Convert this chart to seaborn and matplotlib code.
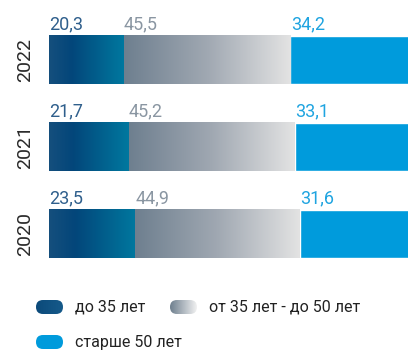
import numpy as np
import pandas as pd
import matplotlib
matplotlib.use("Agg")
import matplotlib.pyplot as plt
import seaborn as sns
from matplotlib import font_manager
from matplotlib.colors import LinearSegmentedColormap
from matplotlib.patches import FancyBboxPatch

# ---- data ----
years = ["2022", "2021", "2020"]
young = [20.3, 21.7, 23.5]
middle = [45.5, 45.2, 44.9]
senior = [34.2, 33.1, 31.6]
legend_labels = ["до 35 лет", "от 35 лет - до 50 лет", "старше 50 лет"]

sns.set_theme(style="white")
names = {f.name for f in font_manager.fontManager.ttflist}
font = "Liberation Sans Narrow" if "Liberation Sans Narrow" in names else "Roboto"
plt.rcParams["font.family"] = [font, "DejaVu Sans"]

df = pd.DataFrame({"year": years, "young": young, "middle": middle, "senior": senior})
df["cum_mid"] = df["young"] + df["middle"]
df["total"] = df["cum_mid"] + df["senior"]

W, H = 408, 352
fig = plt.figure(figsize=(W / 100, H / 100), dpi=100)
step = 87
top_c = 60
ax = fig.add_axes([49 / W, 1 - (top_c + 2.5 * step) / H, 367 / W, 3 * step / H])

bw = 0.555
c_blue = "#009bdc"
sns.barplot(data=df, y="year", x="total", order=years, orient="h", color=c_blue,
            width=bw, ax=ax, saturation=1)
n0 = len(ax.patches)
sns.barplot(data=df, y="year", x="cum_mid", order=years, orient="h", color="#aaaaaa",
            width=bw, ax=ax, saturation=1)
n1 = len(ax.patches)
sns.barplot(data=df, y="year", x="young", order=years, orient="h", color="#0b4a7a",
            width=bw, ax=ax, saturation=1)
p_total = ax.patches[:n0]
p_mid = ax.patches[n0:n1]
p_young = ax.patches[n1:]

cm_dark = LinearSegmentedColormap.from_list("d", [(0, "#154f7d"), (0.3, "#03467a"), (1, "#00789f")])
cm_gray = LinearSegmentedColormap.from_list("g", [(0, "#6e7f8f"), (0.5, "#a0a8b2"), (1, "#e3e3e3")])
grad = np.linspace(0, 1, 256).reshape(1, -1)

for pt, pm, py in zip(p_total, p_mid, p_young):
    y0, h = py.get_y(), py.get_height()
    xa = py.get_width()
    xb = pm.get_width()
    ax.imshow(grad, extent=(0, xa, y0 + h, y0), aspect="auto", cmap=cm_dark, zorder=3,
              interpolation="bilinear")
    ax.imshow(grad, extent=(xa, xb, y0 + h, y0), aspect="auto", cmap=cm_gray, zorder=3,
              interpolation="bilinear")

ax.set_xlim(0, 100)
ax.set_ylim(2.5, -0.5)

lab_colors = ["#2f5f8c", "#8a96a2", "#1fa4e0"]
for i, (py, pm) in enumerate(zip(p_young, p_mid)):
    ytop = py.get_y()
    starts = [0, py.get_width(), pm.get_width()]
    vals = [young[i], middle[i], senior[i]]
    for s, v, c in zip(starts, vals, lab_colors):
        ax.annotate(f"{v:.1f}".replace(".", ","), xy=(s, ytop), xytext=(0.3, 5),
                    textcoords="offset points", ha="left", va="baseline",
                    fontsize=13, color=c, annotation_clip=False)

for s in ax.spines.values():
    s.set_visible(False)
ax.set_xticks([])
ax.set_xlabel("")
ax.set_ylabel("")
ax.tick_params(axis="y", length=0, pad=11)
for t in ax.get_yticklabels():
    t.set_rotation(90)
    t.set_va("center")
    t.set_fontsize(14)
    t.set_color("#2a2a2a")

# ---- legend ----
lax = fig.add_axes([0, 0, 1, 1])
lax.set_xlim(0, W)
lax.set_ylim(H, 0)
lax.axis("off")
cm_ld = LinearSegmentedColormap.from_list("ld", ["#0b4a7a", "#165a8a"])
cm_lg = LinearSegmentedColormap.from_list("lg", ["#6e7f8e", "#f2f2f2"])
cm_lb = LinearSegmentedColormap.from_list("lb", [c_blue, c_blue])
items = [(36, 300, cm_ld, 75), (170, 300, cm_lg, 209), (36, 335, cm_lb, 75)]
for (x, y, cm, tx), lab in zip(items, legend_labels):
    pill = FancyBboxPatch((x, y), 27, 14, boxstyle="round,pad=0,rounding_size=7",
                          facecolor="none", edgecolor="none")
    lax.add_patch(pill)
    im = lax.imshow(grad, extent=(x, x + 27, y + 14, y), aspect="auto", cmap=cm,
                    interpolation="bilinear")
    im.set_clip_path(pill)
    lax.text(tx, y + 7.5, lab, va="center", ha="left", fontsize=11.5, color="#222222")
lax.set_xlim(0, W)
lax.set_ylim(H, 0)

fig.savefig("out.png", dpi=100)
